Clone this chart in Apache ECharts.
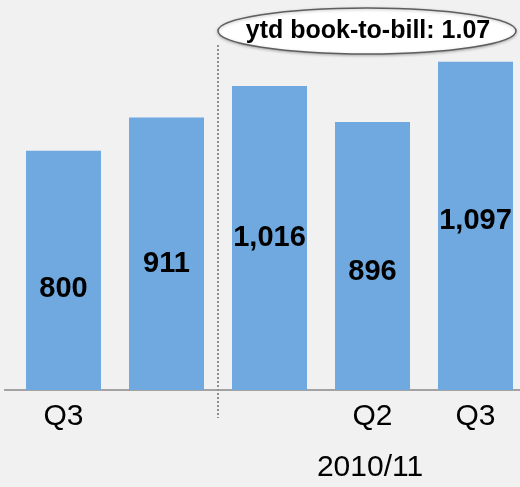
<!DOCTYPE html>
<html>
<head>
  <meta charset="utf-8">
  <title>book-to-bill</title>
  <script src="https://cdn.jsdelivr.net/npm/echarts@6/dist/echarts.min.js"></script>
  <style>
    html, body { margin: 0; padding: 0; background: #f1f1f1; }
  </style>
</head>
<body>
  <div id="main" style="width:520px;height:487px;"></div>
  <script type="text/javascript">
    // data
    var quarters = ['Q3', '', '', 'Q2', 'Q3'];
    var orders = [800, 911, 1016, 896, 1097];
    var periodLabel = '2010/11';
    var callout = 'ytd book-to-bill: 1.07';

    // hand placed label nudges (px), the original labels are not centred
    var labelShift = [19, 10, 0, 16, -5];

    var font = '"Liberation Sans", Arial, sans-serif';
    var myChart = echarts.init(document.getElementById('main'));

    var barData = orders.map(function (v, i) {
      return { value: v, label: { offset: [0, labelShift[i]] } };
    });

    var option = {
      backgroundColor: '#f1f1f1',
      animation: false,
      grid: { left: 12, width: 515, top: 31, bottom: 97, outerBoundsMode: 'none', containLabel: false },
      xAxis: {
        type: 'category',
        data: quarters,
        axisLine: { lineStyle: { color: '#a3a3a3', width: 2 } },
        axisTick: { show: false },
        axisLabel: { color: '#000', fontSize: 30, fontFamily: font, margin: 12, interval: 0 }
      },
      yAxis: {
        type: 'value',
        min: 0,
        max: 1200,
        show: false,
        splitLine: { show: false }
      },
      series: [{
        type: 'bar',
        barWidth: 75,
        itemStyle: { color: '#6fa9e0' },
        label: {
          show: true,
          position: 'inside',
          color: '#000',
          fontSize: 29,
          fontWeight: 'bold',
          fontFamily: font,
          formatter: function (p) {
            return echarts.format.addCommas(p.value);
          }
        },
        data: barData
      }]
    };
    myChart.setOption(option);

    // divider between the two periods, halfway between bar 2 and bar 3
    var xa = myChart.convertToPixel({ xAxisIndex: 0 }, 1);
    var xb = myChart.convertToPixel({ xAxisIndex: 0 }, 2);
    var divX = Math.round((xa + xb) / 2);

    myChart.setOption({
      graphic: [
        {
          type: 'line',
          shape: { x1: 4, y1: 390, x2: 12, y2: 390 },
          style: { stroke: '#a3a3a3', lineWidth: 2 }
        },
        {
          type: 'line',
          shape: { x1: divX, y1: 45, x2: divX, y2: 418 },
          style: { stroke: '#8f8f8f', lineWidth: 2, lineDash: [2, 2] },
          z: 1
        },
        {
          type: 'ellipse',
          shape: { cx: 367, cy: 31, rx: 149, ry: 23 },
          style: {
            fill: '#fff', stroke: '#5e5e5e', lineWidth: 1.5,
            shadowBlur: 3, shadowColor: 'rgba(0,0,0,0.25)', shadowOffsetY: 1
          },
          z: 10
        },
        {
          type: 'text',
          x: 368, y: 31,
          style: {
            text: callout, fill: '#000', fontSize: 25, fontWeight: 'bold',
            fontFamily: font, align: 'center', verticalAlign: 'middle'
          },
          z: 11
        },
        {
          type: 'text',
          x: 370, y: 468,
          style: {
            text: periodLabel, fill: '#000', fontSize: 30,
            fontFamily: font, align: 'center', verticalAlign: 'middle'
          }
        }
      ]
    });
  </script>
</body>
</html>
